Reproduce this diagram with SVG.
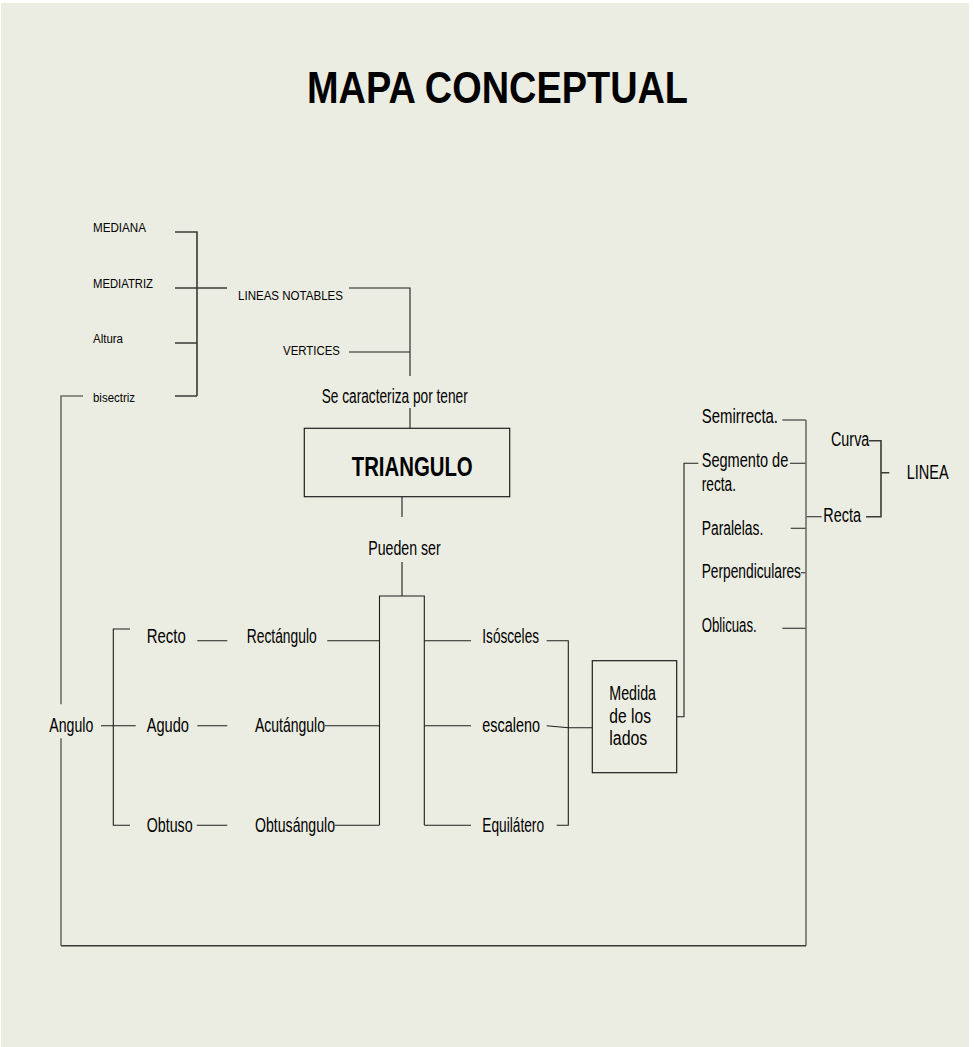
<svg xmlns="http://www.w3.org/2000/svg" width="974" height="1047" viewBox="0 0 974 1047">
<style>
text{font-family:"Liberation Sans",Arial,sans-serif;fill:#000}
.s{font-size:12.5px}
.m{font-size:20px}
.b{font-weight:bold}
.ln{fill:none;stroke:#1e1e1e;stroke-width:1.1}
.gr{fill:none;stroke:#6e6e66;stroke-width:1.6}
.dk{fill:none;stroke:#3a3a36;stroke-width:1.6}
.box{fill:none;stroke:#1e1e1e;stroke-width:1.2}
</style>
<rect x="0" y="0" width="974" height="1047" fill="#ffffff"/>
<rect x="1" y="3" width="968" height="1044" fill="#ECEDE2"/>

<g id="title"><text class="b" x="307" y="103" font-size="45" textLength="381" lengthAdjust="spacingAndGlyphs">MAPA CONCEPTUAL</text></g>

<g id="connectors">
  <!-- lineas notables bracket -->
  <path class="dk" d="M175 232H197V396M175 343H197M175 396H197"/>
  <path class="dk" d="M175 288H227"/>
  <path class="ln" d="M349 288H410V376M349 352H410M410 408V428"/>
  <path class="ln" d="M402 497V517M402 562V596"/>
  <!-- tall box -->
  <path class="ln" d="M379.5 825V596H424.3V825"/>
  <!-- left side -->
  <path class="ln" d="M130 629H113.3V825.3H130M101 725.7H135.7"/>
  <path class="ln" d="M197.3 640.7H227.3M197.3 725.7H227.3M196.7 825.3H227.3"/>
  <path class="ln" d="M327.3 640.7H379.5M325 725.7H379.5M335 825.3H379.5"/>
  <!-- right side of tall box -->
  <path class="ln" d="M424.3 640.7H471M424.3 725.7H471M424.3 825.3H471"/>
  <path class="ln" d="M546.7 640.7H568.3V825.3H556.7M546.7 725.7L568.3 727.7H592.3"/>
  <path class="ln" d="M676.7 716.7H684V463.3H698.3"/>
  <!-- line list -->
  <path class="ln" d="M782.3 420H806M790 463.3H806M790.7 528.3H806M801 572.7H806M782.3 628.3H806M806 516.7H821.7"/>
  <path class="dk" d="M866 516.7H881V440.7H869M881.7 472.7H889.3"/>
  <!-- big loop -->
  <path class="gr" d="M83 396H61V704.3M61 738.3V945.7"/>
  <path class="gr" d="M806 420V945.7"/>
  <path class="dk" d="M61 945.7H806"/>
</g>

<g id="n-mediana"><text class="s" x="93" y="232" textLength="53" lengthAdjust="spacingAndGlyphs">MEDIANA</text></g>
<g id="n-mediatriz"><text class="s" x="93" y="288" textLength="60" lengthAdjust="spacingAndGlyphs">MEDIATRIZ</text></g>
<g id="n-altura"><text class="s" x="93" y="343" textLength="30" lengthAdjust="spacingAndGlyphs">Altura</text></g>
<g id="n-bisectriz"><text class="s" x="93" y="402" textLength="42" lengthAdjust="spacingAndGlyphs">bisectriz</text></g>
<g id="n-lineas"><text class="s" x="238" y="300" textLength="105" lengthAdjust="spacingAndGlyphs">LINEAS NOTABLES</text></g>
<g id="n-vertices"><text class="s" x="283" y="355" textLength="57" lengthAdjust="spacingAndGlyphs">VERTICES</text></g>
<g id="n-caracteriza"><text class="m" x="321.7" y="403" textLength="146" lengthAdjust="spacingAndGlyphs">Se caracteriza por tener</text></g>
<g id="n-triangulo"><rect class="box" x="304.3" y="428.3" width="205.4" height="68.4"/><text class="b" x="351.7" y="476" font-size="27" textLength="121" lengthAdjust="spacingAndGlyphs">TRIANGULO</text></g>
<g id="n-pueden"><text class="m" x="368.3" y="555" textLength="72.4" lengthAdjust="spacingAndGlyphs">Pueden ser</text></g>

<g id="n-angulo"><text class="m" x="49.3" y="731.7" textLength="44" lengthAdjust="spacingAndGlyphs">Angulo</text></g>
<g id="n-recto"><text class="m" x="146.7" y="643.3" textLength="39" lengthAdjust="spacingAndGlyphs">Recto</text></g>
<g id="n-agudo"><text class="m" x="146.7" y="731.7" textLength="42.3" lengthAdjust="spacingAndGlyphs">Agudo</text></g>
<g id="n-obtuso"><text class="m" x="146.7" y="831.7" textLength="46" lengthAdjust="spacingAndGlyphs">Obtuso</text></g>
<g id="n-rectangulo"><text class="m" x="246.7" y="643.3" textLength="70" lengthAdjust="spacingAndGlyphs">Rectángulo</text></g>
<g id="n-acutangulo"><text class="m" x="255" y="731.7" textLength="70" lengthAdjust="spacingAndGlyphs">Acutángulo</text></g>
<g id="n-obtusangulo"><text class="m" x="255" y="831.7" textLength="80" lengthAdjust="spacingAndGlyphs">Obtusángulo</text></g>

<g id="n-isosceles"><text class="m" x="482.3" y="643.3" textLength="56.7" lengthAdjust="spacingAndGlyphs">Isósceles</text></g>
<g id="n-escaleno"><text class="m" x="482.3" y="731.7" textLength="57.7" lengthAdjust="spacingAndGlyphs">escaleno</text></g>
<g id="n-equilatero"><text class="m" x="482.3" y="831.7" textLength="61.7" lengthAdjust="spacingAndGlyphs">Equilátero</text></g>

<g id="n-medida"><rect class="box" x="592.3" y="660.7" width="84.4" height="112"/>
<text class="m" x="609.3" y="700" textLength="46.7" lengthAdjust="spacingAndGlyphs">Medida</text>
<text class="m" x="609.3" y="723.3" textLength="41.7" lengthAdjust="spacingAndGlyphs">de los</text>
<text class="m" x="609.3" y="745" textLength="38" lengthAdjust="spacingAndGlyphs">lados</text></g>

<g id="n-semirrecta"><text class="m" x="701.7" y="423.3" textLength="76.3" lengthAdjust="spacingAndGlyphs">Semirrecta.</text></g>
<g id="n-segmento"><text class="m" x="701.7" y="466.7" textLength="86.6" lengthAdjust="spacingAndGlyphs">Segmento de</text><text class="m" x="701.7" y="490.5" textLength="34.3" lengthAdjust="spacingAndGlyphs">recta.</text></g>
<g id="n-paralelas"><text class="m" x="701.7" y="534.5" textLength="61.6" lengthAdjust="spacingAndGlyphs">Paralelas.</text></g>
<g id="n-perpendiculares"><text class="m" x="701.7" y="578.3" textLength="99.3" lengthAdjust="spacingAndGlyphs">Perpendiculares</text></g>
<g id="n-oblicuas"><text class="m" x="701.7" y="632.3" textLength="55" lengthAdjust="spacingAndGlyphs">Oblicuas.</text></g>
<g id="n-curva"><text class="m" x="831" y="445.7" textLength="38.3" lengthAdjust="spacingAndGlyphs">Curva</text></g>
<g id="n-recta"><text class="m" x="823.3" y="522.3" textLength="37.7" lengthAdjust="spacingAndGlyphs">Recta</text></g>
<g id="n-linea"><text class="m" x="906.7" y="479" textLength="42" lengthAdjust="spacingAndGlyphs">LINEA</text></g>
</svg>
